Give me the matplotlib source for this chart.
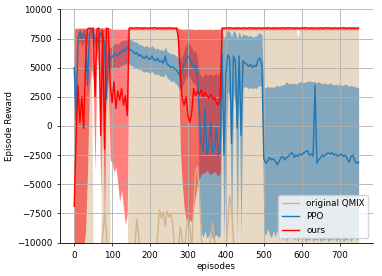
import matplotlib
matplotlib.use("Agg")
import matplotlib.pyplot as plt
import numpy as np

# episodes sampled every 5
episodes = np.arange(0, 755, 5)

# original QMIX: mean (mostly below the axis) and upper edge of its band
qmix_mean = [
    -11500, -11500, -11500, -11500, -11500, -11500, -11500, -11500, -11500, -11500,
    -11500, -11500, -11500, -11500, -11500, -9500, -7500, -9200, -11500, -11500,
    -11500, -11500, -11500, -11500, -11500, -11500, -11500, -11500, -11500, -11500,
    -11500, -11500, -10200, -8000, -9400, -11500, -11500, -11500, -11500, -11500,
    -11500, -11500, -11500, -11500, -9400, -7200, -7900, -7400, -8600, -7300,
    -7800, -7500, -8600, -10400, -11500, -10500, -8600, -9800, -11500, -9000,
    -8000, -8600, -10500, -7000, -4000, -3500, -5600, -9400, -11500, -11500,
    -11500, -11500, -9500, -8300, -9600, -11500, -11500, -11500, -11500, -11500,
    -10500, -8400, -6000, -7000, -9800, -11500, -11500, -11500, -11500, -11500,
    -11500, -11500, -11500, -11500, -11500, -11500, -11500, -11500, -11500, -11500,
    -11500, -11500, -11500, -11500, -11500, -11500, -11500, -11500, -11500, -11500,
    -11500, -11500, -11500, -11500, -11500, -11500, -11500, -11500, -11500, -11500,
    -11500, -11500, -11500, -11500, -11500, -11500, -11500, -11500, -11500, -11500,
    -11500, -11500, -11500, -11500, -11500, -11500, -11500, -11500, -11500, -11500,
    -11500, -11500, -11500, -11500, -11500, -11500, -11500, -11500, -11500, -11500,
    -11500,
]
qmix_hi = [
    8300, 8350, 8250, 8300, 8350, 8300, 8250, 8300, 8350, 8300,
    -11000, -11000, -11000, -11000, -11000, 8300, 8250, 8300, 8300, -11000,
    -11000, -11000, -11000, -11000, -11000, -11000, -11000, -11000, -11000, 8300,
    8300, 8350, 8300, 8280, 8320, 8300, 8350, 8300, 8280, 8320,
    8300, 8340, 8300, 8280, 8320, 8300, 8350, 8300, 8280, 8320,
    8300, 8340, 8300, 8280, 8320, 8300, 8350, 8300, 8280, 8320,
    8300, 8340, 8300, 8280, 8320, 8300, 8350, 8300, 8280, 8320,
    8300, 8340, 8300, 8280, 8320, 8300, 8350, 8300, 8280, 8320,
    8300, 8340, 8300, 8280, 8320, 8300, 8350, 8300, 8280, 8320,
    8300, 8340, 8300, 8280, 8320, 8300, 8350, 8300, 8280, 8320,
    8300, 8340, 8300, 8280, 8320, 8300, 8350, 8300, 8280, 8320,
    8300, 8340, 8300, 8280, 8320, 8300, 8350, 8300, 7700, 8320,
    8300, 8340, 8300, 8280, 8320, 8300, 8350, 8300, 8280, 8320,
    8300, 8340, 8300, 8280, 8320, 8300, 8350, 8300, 8280, 8320,
    8300, 8340, 8300, 8280, 8320, 8300, 8350, 8300, 8280, 8320,
    8300,
]

# PPO
ppo_mean = [
    5000, 500, 7600, 8000, 7500, 7900, 7700, 3500, 8000, 8200,
    7900, 7400, 7100, 7600, 8000, 7700, 6800, 2300, 6400, 5800,
    5900, 6100, 6200, 6000, 6300, 6400, 6500, 6400, 6800, 6600,
    6500, 6400, 6200, 6300, 6000, 6100, 5900, 5800, 6000, 5800,
    5700, 6000, 5700, 5600, 5800, 5500, 5600, 5400, 6000, 5300,
    5200, 5000, 5100, 4900, 4800, 4500, 4300, 4800, 5300, 5800,
    6000, 5800, 5400, 5000, 5200, 4300, 1000, -1500, -2200, 1500,
    -2400, -1800, 300, -2300, -2000, -200, -2500, -2200, 6200, -2500,
    4500, 6100, 5800, -1500, 6000, 5600, -200, 6000, -800, 5600,
    5400, 5300, 5100, 5300, 5000, 5200, 5100, 5700, 5800, 5300,
    -2800, -3200, -3000, -2700, -2900, -2800, -3000, -3300, -3100, -2700,
    -2600, -2900, -2700, -2600, -2400, -2300, -2700, -2500, -2600, -2400,
    -2500, -2300, -2200, -2100, -2500, -2400, -2600, 3500, -3200, -2900,
    -2700, -2500, -2600, -2400, -2300, -2400, -2300, -2500, -2400, -2600,
    -2500, -2400, -2600, -2500, -2800, -3100, -2600, -2500, -3000, -3200,
    -3100,
]
ppo_lo = [
    3500, -300, 6900, 7300, 6800, 7200, 7000, 2500, 7300, 7500,
    7200, 6700, 6400, 6900, 7300, 7000, 6000, 1300, 5500, 4900,
    4900, 5000, 5100, 4900, 5100, 5200, 5300, 5300, 5500, 5300,
    5200, 5100, 5000, 5000, 4800, 4900, 4700, 4600, 4700, 4600,
    4500, 4700, 4500, 4400, 4500, 4300, 4300, 4200, 4500, 4100,
    4000, 3800, 3900, 3700, 3600, 3300, 3100, 3400, 3800, 4200,
    4400, 4200, 3900, 3600, 3700, 2500, -6000, -9200, -9500, -9000,
    -9600, -9400, -9000, -9700, -9500, -9300, -9600, -9400, 2500, -9500,
    -2000, 3000, 2500, -9400, 2800, 2000, -9200, 2800, -9600, 3200,
    3400, 3300, 3200, 3300, 3200, 3300, 3200, 3400, 3500, 3300,
    -9000, -9400, -8800, -9300, -9600, -9000, -9500, -8900, -9700, -9200,
    -9800, -9300, -9900, -9500, -9700, -9400, -9800, -9600, -9900, -9500,
    -9800, -9600, -9900, -9700, -9800, -9500, -9900, -9700, -9800, -9600,
    -9900, -9700, -9800, -9600, -9900, -9700, -9800, -9500, -9900, -9700,
    -9800, -9600, -9900, -9700, -9800, -9500, -9900, -9600, -9400, -9800,
    -9600,
]
ppo_hi = [
    6500, 1500, 8100, 8400, 8000, 8400, 8200, 4500, 8400, 8450,
    8400, 7900, 7600, 8100, 8450, 8200, 7400, 3300, 7200, 6700,
    6800, 7000, 7100, 7000, 7200, 7300, 7400, 7300, 7700, 7500,
    7400, 7300, 7200, 7200, 7000, 7000, 6900, 6800, 6900, 6800,
    6700, 6900, 6700, 6600, 6700, 6500, 6600, 6400, 6800, 6400,
    6300, 6200, 6200, 6100, 6000, 5800, 5600, 6000, 6500, 7000,
    7200, 7000, 6700, 6300, 6500, 5800, 4500, 4300, 4200, 4600,
    4300, 4400, 4500, 4300, 4400, 4500, 4400, 4600, 8200, 7500,
    8000, 8200, 8100, 7600, 8200, 8000, 7500, 8100, 7600, 7900,
    7800, 7800, 7700, 7800, 7600, 7700, 7700, 7900, 8000, 7800,
    3300, 3300, 3400, 3300, 3400, 3300, 3400, 3500, 3400, 3500,
    3500, 3600, 3800, 3600, 3700, 3600, 3700, 3600, 3700, 3800,
    3800, 3700, 3800, 3800, 3900, 3800, 3800, 3800, 3700, 3800,
    3700, 3600, 3700, 3600, 3600, 3700, 3600, 3500, 3600, 3500,
    3600, 3500, 3500, 3600, 3500, 3400, 3500, 3400, 3400, 3300,
    3300,
]

# ours
ours_mean = [
    -6900, -1000, 3500, 300, 2500, -200, 5500, 8300, 8400, 8350,
    8400, 2500, 8300, 8400, -800, 8200, -2000, 8400, 8300, 3500,
    2000, 3800, 1500, 3000, 2200, 3200, 1800, 2600, 900, 8400,
    8420, 8380, 8400, 8430, 8390, 8410, 8370, 8420, 8400, 8380,
    8410, 8390, 8430, 8400, 8370, 8420, 8390, 8410, 8380, 8400,
    8420, 8390, 8400, 8370, 8410, 7500, 4500, 2300, 1800, 2500,
    900, 300, 1200, 3200, 2600, 3000, 2700, 3100, 2500, 2900,
    2600, 2400, 2700, 2300, 2500, 2000, 1800, 2400, 8400, 8380,
    8410, 8390, 8430, 8400, 8370, 8420, 8390, 8410, 8380, 8400,
    8420, 8380, 8400, 8430, 8390, 8410, 8370, 8420, 8400, 8380,
    8410, 8390, 8430, 8400, 8370, 8420, 8390, 8410, 8380, 8400,
    8420, 8380, 8400, 8430, 8390, 8410, 8370, 8420, 8400, 8380,
    8410, 8390, 8430, 8400, 8370, 8420, 8390, 8410, 8380, 8400,
    8420, 8380, 8400, 8430, 8390, 8410, 8370, 8420, 8400, 8380,
    8410, 8390, 8430, 8400, 8370, 8420, 8390, 8410, 8380, 8400,
    8400,
]
ours_lo = [
    -10500, -10500, -10500, -10500, -10500, -10500, -9000, -4000, 3000, 5000,
    4000, -4000, 6000, 5000, -6000, 3000, -8600, 5000, 3000, -3000,
    -3000, -4000, -3500, -5000, -6500, -5500, -7000, -8500, -7500, 8200,
    8250, 8260, 8240, 8250, 8260, 8250, 8240, 8260, 8250, 8240,
    8250, 8260, 8240, 8250, 8260, 8250, 8240, 8260, 8250, 8240,
    8250, 8260, 8240, 8250, 8260, 5000, -2000, -5000, -7000, -8000,
    -8600, -8000, -8300, -7000, -6000, -5000, -4500, -4200, -4000, -4000,
    -3800, -4000, -4200, -4000, -3900, -4100, -4300, -4000, 8200, 8250,
    8250, 8260, 8240, 8250, 8260, 8250, 8240, 8260, 8250, 8240,
    8250, 8260, 8240, 8250, 8260, 8250, 8240, 8260, 8250, 8240,
    8250, 8260, 8240, 8250, 8260, 8250, 8240, 8260, 8250, 8240,
    8250, 8260, 8240, 8250, 8260, 8250, 8240, 8260, 8250, 8240,
    8250, 8260, 8240, 8250, 8260, 8250, 8240, 8260, 8250, 8240,
    8250, 8260, 8240, 8250, 8260, 8250, 8240, 8260, 8250, 8240,
    8250, 8260, 8240, 8250, 8260, 8250, 8240, 8260, 8250, 8240,
    8250,
]
ours_hi = [
    8300, 8400, 8400, 8400, 8400, 8400, 8400, 8450, 8450, 8450,
    8450, 8400, 8450, 8450, 8400, 8450, 8400, 8450, 8450, 8400,
    8300, 8300, 8300, 8300, 8300, 8300, 8300, 8300, 8300, 8450,
    8480, 8480, 8480, 8480, 8480, 8480, 8480, 8480, 8480, 8480,
    8480, 8480, 8480, 8480, 8480, 8480, 8480, 8480, 8480, 8480,
    8480, 8480, 8480, 8480, 8480, 8400, 8300, 8300, 8300, 8300,
    8300, 8300, 8300, 8300, 8250, 8250, 8300, 8250, 8300, 8250,
    8300, 8250, 8300, 8250, 8300, 8300, 8250, 8300, 8450, 8480,
    8480, 8480, 8480, 8480, 8480, 8480, 8480, 8480, 8480, 8480,
    8480, 8480, 8480, 8480, 8480, 8480, 8480, 8480, 8480, 8480,
    8480, 8480, 8480, 8480, 8480, 8480, 8480, 8480, 8480, 8480,
    8480, 8480, 8480, 8480, 8480, 8480, 8480, 8480, 8480, 8480,
    8480, 8480, 8480, 8480, 8480, 8480, 8480, 8480, 8480, 8480,
    8480, 8480, 8480, 8480, 8480, 8480, 8480, 8480, 8480, 8480,
    8480, 8480, 8480, 8480, 8480, 8480, 8480, 8480, 8480, 8480,
    8480,
]

plt.rcParams["font.size"] = 6.3

fig = plt.figure(figsize=(3.82, 2.76), dpi=100)
ax = fig.add_axes([0.157, 0.121, 0.819, 0.845])

# bands first, lines on top
ax.fill_between(episodes, qmix_hi, -12000, color="tan", alpha=0.5, linewidth=0)
ax.fill_between(episodes, ppo_lo, ppo_hi, color="tab:blue", alpha=0.5, linewidth=0)
ax.fill_between(episodes, ours_lo, ours_hi, color="red", alpha=0.5, linewidth=0)
ax.plot(episodes, qmix_mean, color="tan", lw=1.0, label="original QMIX")
ax.plot(episodes, ppo_mean, color="tab:blue", lw=1.0, label="PPO")
ax.plot(episodes, ours_mean, color="red", lw=1.0, label="ours")

ax.set_xlim(-37.5, 787.5)
ax.set_ylim(-10000, 10000)
ax.grid(True, lw=0.6)
ax.spines[["top", "right"]].set_visible(False)
ax.tick_params(length=2.2, width=0.5)
for s in ("left", "bottom"):
    ax.spines[s].set_linewidth(0.6)
ax.set_xlabel("episodes", labelpad=1.5)
ax.set_ylabel("Episode Reward", labelpad=2)
ax.legend(loc="lower right")

fig.savefig("out.png")
